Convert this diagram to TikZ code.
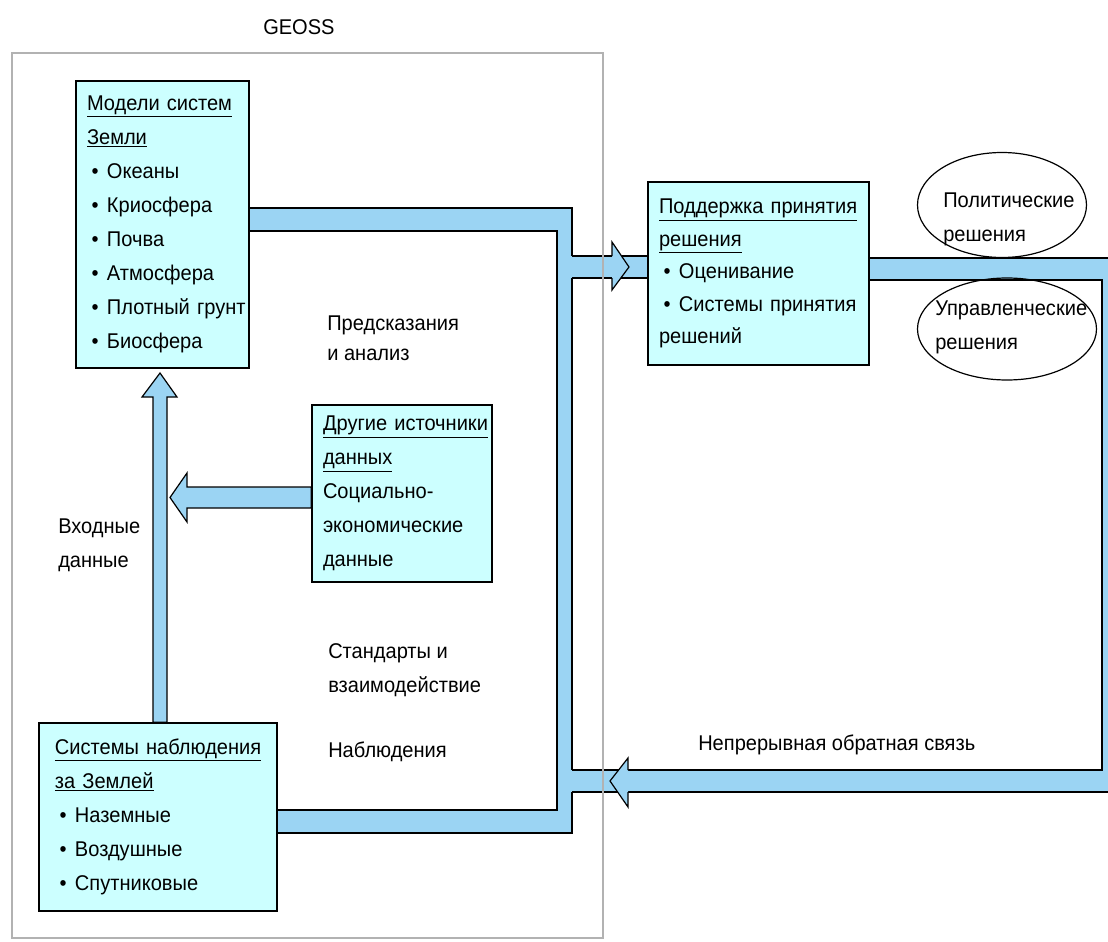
\documentclass[tikz,border=0pt]{standalone}
\usepackage{fontspec}
\setmainfont{Liberation Sans}[FakeStretch=0.94]
\usetikzlibrary{calc, shapes.geometric, positioning}
\definecolor{cajafondo}{RGB}{204,255,255}
\definecolor{banda}{RGB}{155,212,243}
\newcommand{\vin}{\makebox[15pt][l]{\hspace{3.5pt}\textbullet}}

\begin{document}
\begin{tikzpicture}[x=0.75pt, y=-0.75pt,
  caja/.style={draw, line width=1.2pt, fill=cajafondo, align=left, inner xsep=8.25pt, inner ysep=0pt,
    font=\fontsize{16}{25.5}\selectfont},
  texto/.style={align=left, inner sep=0pt, anchor=west, font=\fontsize{16}{25.5}\selectfont},
  borde/.style={line width=0.9pt},
  elipse/.style={draw, ellipse, line width=0.9pt, inner sep=0pt}]
% Esquema GEOSS: cajas, flechas anchas y marco gris
\useasboundingbox (0,0) rectangle (1108,942);
\clip (0,0) rectangle (1108,942);

\node[caja, text width=113.25pt, minimum height=215.25pt] (modelos) at (162.5,224.5)
  {\underline{Модели~систем}\\\underline{Земли}\\\vin Океаны\\\vin Криосфера\\\vin Почва\\\vin Атмосфера\\\vin Плотный~грунт\\\vin Биосфера};
\node[caja, text width=149.25pt, minimum height=137.25pt, font=\fontsize{16}{24.4}\selectfont] (decision) at (758.5,273.5)
  {\underline{Поддержка~принятия}\\\underline{решения}\\\vin Оценивание\\\vin Системы~принятия\\решений};
\node[caja, text width=118.5pt, minimum height=132.75pt] (otros) at (402,493.5)
  {\underline{Другие~источники}\\\underline{данных}\\Социально-\\экономические\\данные};
\node[caja, text width=154.5pt, inner xsep=12pt, minimum height=141pt] (observ) at (158,817)
  {\underline{Системы~наблюдения}\\\underline{за~Землей}\\\vin Наземные\\\vin Воздушные\\\vin Спутниковые};

\node[texto] (geoss) at (263,27) {GEOSS};
\node[texto, font=\fontsize{16}{22.5}\selectfont] (prognoz) at (327,338) {Предсказания\\и анализ};
\node[texto] (vhod) at (58,545.5) {Входные\\данные};
\node[texto] (standart) at (328,670) {Стандарты и\\взаимодействие};
\node[texto] (nabl) at (328,752) {Наблюдения};
\node[texto] (svyaz) at (698,745) {Непрерывная обратная связь};

% bandas
\fill[banda] (modelos.east |- 0,208) -- (572,208) -- (572,833) -- (observ.east |- 0,833)
  -- (observ.east |- 0,810) -- (557,810) -- (557,231) -- (modelos.east |- 0,231) -- cycle;
\fill[banda] (572,256) rectangle (decision.west |- 0,278);
\fill[banda] (decision.east |- 0,258) -- (1115,258) -- (1115,792) -- (572,792) -- (572,770)
  -- (1102,770) -- (1102,280) -- (decision.east |- 0,280) -- cycle;

\draw[borde] (modelos.east |- 0,231) -- (modelos.east |- 0,208) -- (572,208) -- (572,256);
\draw[borde] (572,278) -- (572,770);
\draw[borde] (572,792) -- (572,833) -- (observ.east |- 0,833) -- (observ.east |- 0,810)
  -- (557,810) -- (557,231) -- (modelos.east |- 0,231);
\draw[borde] (572,256) -- (decision.west |- 0,256);
\draw[borde] (572,278) -- (decision.west |- 0,278);
\draw[borde] (decision.east |- 0,280) -- (decision.east |- 0,258) -- (1115,258) -- (1115,792) -- (572,792);
\draw[borde] (572,770) -- (1102,770) -- (1102,280) -- (decision.east |- 0,280);

% puntas
\filldraw[banda, draw=black, line width=0.9pt] (observ.north -| 153,0) -- (153,397) -- (142,397) -- (160,373)
  -- (177,397) -- (167,397) -- (observ.north -| 167,0) -- cycle;
\filldraw[banda, draw=black, line width=0.9pt] (otros.west |- 0,487) -- (187,487) -- (187,473) -- (170,497.5)
  -- (187,522) -- (187,508) -- (otros.west |- 0,508) -- cycle;
\fill[banda] (612,242) -- (629,267) -- (612,290) -- cycle;
\draw[borde] (612,256) -- (612,242) -- (629,267) -- (612,290) -- (612,278);
\fill[banda] (628,758) -- (610,781) -- (628,807) -- cycle;
\draw[borde] (628,770) -- (628,758) -- (610,781) -- (628,807) -- (628,792);

% elipses
\node[elipse, minimum width=126.75pt, minimum height=78.75pt] (polit) at (1002,205) {};
\node[texto] (polittx) at (943,219) {Политические\\решения};
\node[elipse, minimum width=134.25pt, minimum height=76.5pt] (uprav) at (1007,329) {};
\node[texto] (upravtx) at (935,327.5) {Управленческие\\решения};

\draw[gray!60, line width=0.8pt] (12,53) rectangle (603,938);
\end{tikzpicture}
\end{document}
